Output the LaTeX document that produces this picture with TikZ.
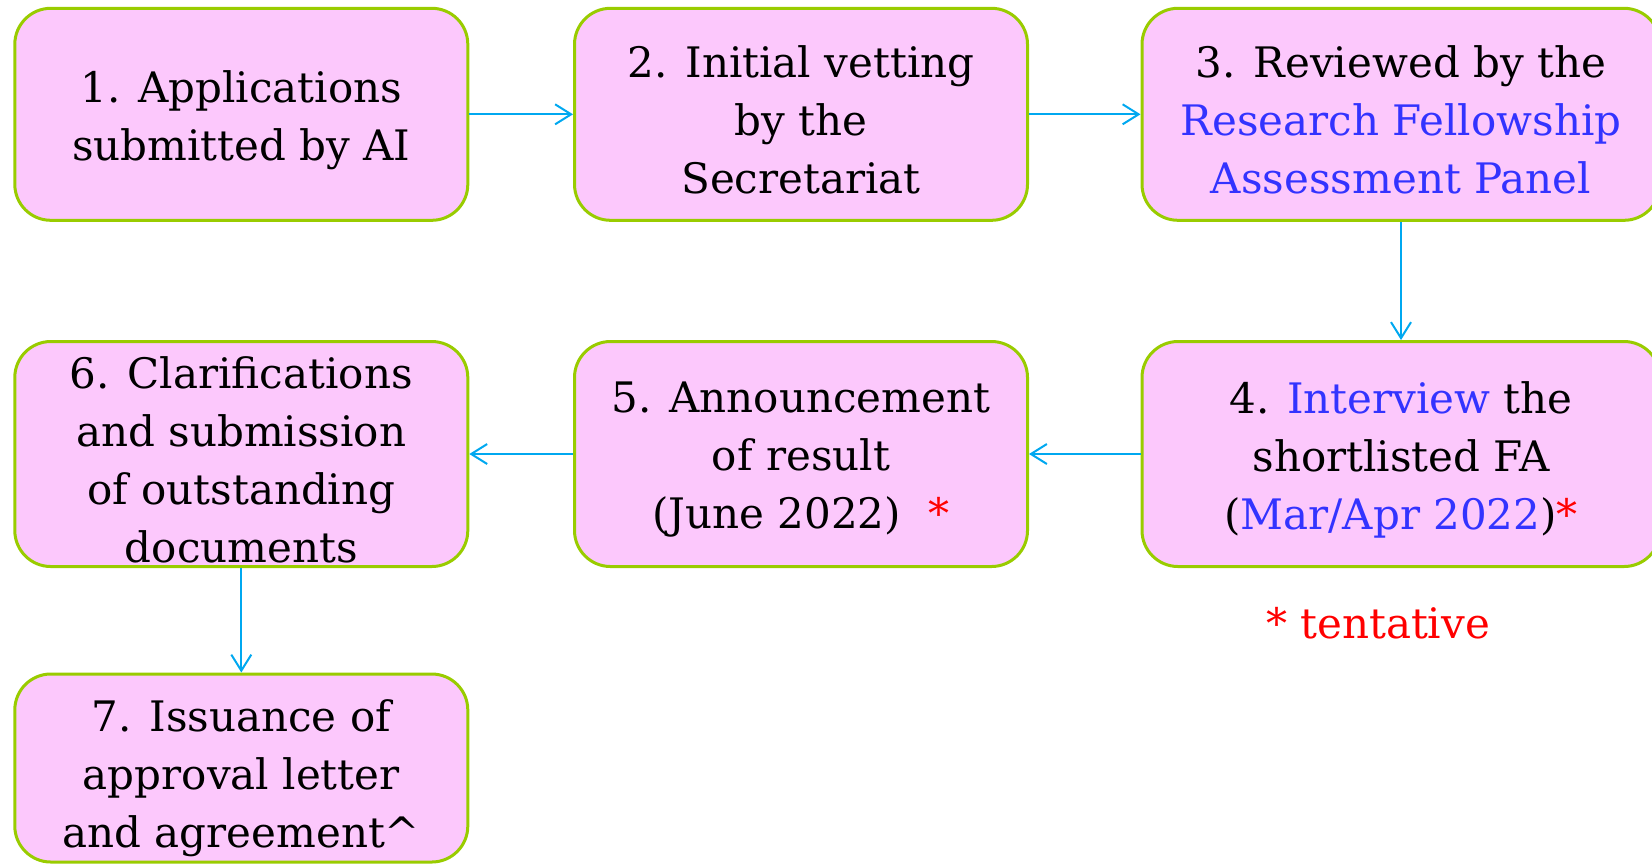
\documentclass[tikz,border=0pt]{standalone}
\usepackage{fontspec}
\setmainfont{DejaVu Serif}
\usetikzlibrary{arrows.meta}
\definecolor{boxfill}{HTML}{FCC8FC}
\definecolor{boxline}{HTML}{99CC00}
\definecolor{arrowc}{HTML}{00A8F0}
\definecolor{bluetxt}{HTML}{3333FF}
\begin{document}
\begin{tikzpicture}[x=0.5pt,y=-0.5pt,
  stage/.style={draw=boxline, line width=1.5pt, fill=boxfill, rounded corners=18pt, inner sep=0pt},
  narrow/.style={minimum width=226.5pt},
  wide/.style={minimum width=259pt},
  label text/.style={align=center, inner sep=0pt, font=\fontsize{21pt}{29pt}\selectfont},
  flow/.style={draw=arrowc, line width=1pt, -{Straight Barb[length=8pt,width=10pt]}},
  note/.style={font=\fontsize{21pt}{29pt}\selectfont, text=red}]
\useasboundingbox (0,0) rectangle (1652,864);
\node[stage, narrow, minimum height=106pt] (b1) at (241.3,114.3) {};
\node[stage, narrow, minimum height=106pt] (b2) at (801,114.3) {};
\node[stage, wide, minimum height=106pt] (b3) at (1401,114.3) {};
\node[stage, wide, minimum height=112.5pt] (b4) at (1401,454) {};
\node[stage, narrow, minimum height=112.5pt] (b5) at (801,454) {};
\node[stage, narrow, minimum height=112.5pt] (b6) at (241.3,454) {};
\node[stage, narrow, minimum height=94pt] (b7) at (241.3,768) {};
\node[label text] (t1) at ([yshift=-3pt]b1.center) {1. Applications\\submitted by AI};
\node[label text] (t2) at ([yshift=-3pt]b2.center) {2. Initial vetting\\by the\\Secretariat};
\node[label text] (t3) at ([yshift=-3pt]b3.center) {3. Reviewed by the\\\textcolor{bluetxt}{Research Fellowship}\\\textcolor{bluetxt}{Assessment Panel}};
\node[label text] (t4) at ([yshift=-3pt]b4.center) {4. \textcolor{bluetxt}{Interview} the\\shortlisted FA\\(\textcolor{bluetxt}{Mar/Apr 2022})\textcolor{red}{*}};
\node[label text] (t5) at ([yshift=-3pt]b5.center) {5. Announcement\\of result\\(June 2022)\hspace{14pt}\textcolor{red}{*}};
\node[label text] (t6) at ([yshift=-3pt]b6.center) {6. Clarifications\\and submission\\of outstanding\\documents};
\node[label text] (t7) at ([yshift=-5pt]b7.center) {7. Issuance of\\approval letter\\and agreement\^{}};
\node[note] (tent) at (1378,623) {* tentative};
\draw[flow] (b1) -- (b2);
\draw[flow] (b2) -- (b3);
\draw[flow] (b3) -- (b4);
\draw[flow] (b4) -- (b5);
\draw[flow] (b5) -- (b6);
\draw[flow] (b6) -- (b7);
\end{tikzpicture}
\end{document}
